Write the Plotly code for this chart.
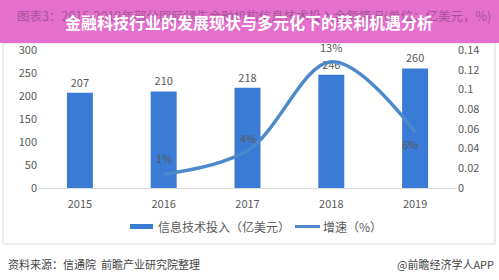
import plotly.graph_objects as go

years = ["2015", "2016", "2017", "2018", "2019"]
invest = [207, 210, 218, 246, 260]
growth_years = ["2016", "2017", "2018", "2019"]
growth = [0.014, 0.038, 0.128, 0.057]
growth_labels = ["1%", "4%", "13%", "6%"]
left_ticks = [0, 50, 100, 150, 200, 250, 300]
right_ticks = [0, 0.02, 0.04, 0.06, 0.08, 0.1, 0.12, 0.14]
right_ticklabels = ["0", "0.02", "0.04", "0.06", "0.08", "0.1", "0.12", "0.14"]

W, H = 499, 280
L, R, T, B = 38, 42, 50, 92
PW, PH = W - L - R, H - T - B

def px(x):
    return (x - L) / PW

def py(y):
    return (H - B - y) / PH

FONT = "Noto Sans CJK SC"
GRAY = "#595959"
BAR = "#3A7BD5"
LINE = "#4C88CC"

fig = go.Figure()
fig.add_trace(go.Bar(
    x=years, y=invest, name="信息技术投入（亿美元）",
    marker=dict(color=BAR, line=dict(width=0)), width=0.31,
    text=[str(v) for v in invest], textposition="outside",
    textfont=dict(size=11, color=GRAY, family=FONT), cliponaxis=False,
))
fig.add_trace(go.Scatter(
    x=growth_years, y=growth, name="增速（%）", yaxis="y2",
    mode="lines", line=dict(color=LINE, width=3.5, shape="spline", smoothing=1.0),
    cliponaxis=False,
))

# label offsets (pixels) for growth labels
label_shift = [(0, 16), (0, 13), (0, 15), (-5, -12)]

shapes = [
    dict(type="rect", xref="paper", yref="paper", x0=px(3), x1=px(495), y0=py(244), y1=py(43),
         line=dict(color="#D9D9D9", width=1), fillcolor="rgba(0,0,0,0)", layer="below"),
    dict(type="rect", xref="paper", yref="paper", x0=px(-2), x1=px(501), y0=py(43), y1=py(-2),
         line=dict(width=0), fillcolor="#E46FCC", layer="above"),
    dict(type="rect", xref="paper", yref="paper", x0=px(130), x1=px(153), y0=py(229), y1=py(224),
         line=dict(width=0), fillcolor=BAR),
    dict(type="line", xref="paper", yref="paper", x0=px(295), x1=px(320), y0=py(226.5), y1=py(226.5),
         line=dict(color=LINE, width=3)),
]

annotations = [
    dict(text="图表3：2015-2019年部分国际领先金融机构信息技术投入金额情况(单位：亿美元，%)",
         xref="paper", yref="paper", x=px(15), y=py(15), xanchor="left", yanchor="middle",
         showarrow=False, font=dict(size=12.5, color="#A8559C", family=FONT)),
    dict(text="<b>金融科技行业的发展现状与多元化下的获利机遇分析</b>",
         xref="paper", yref="paper", x=px(249), y=py(22), xanchor="center", yanchor="middle",
         showarrow=False, font=dict(size=16, color="#FFFFFF", family=FONT)),
    dict(text="信息技术投入（亿美元）", xref="paper", yref="paper", x=px(156), y=py(226.5),
         xanchor="left", yanchor="middle", showarrow=False, font=dict(size=12, color=GRAY, family=FONT)),
    dict(text="增速（%）", xref="paper", yref="paper", x=px(321), y=py(226.5),
         xanchor="left", yanchor="middle", showarrow=False, font=dict(size=12, color=GRAY, family=FONT)),
    dict(text="资料来源：信通院  前瞻产业研究院整理", xref="paper", yref="paper", x=px(6), y=py(264),
         xanchor="left", yanchor="middle", showarrow=False, font=dict(size=11, color="#444444", family=FONT)),
    dict(text="@前瞻经济学人APP", xref="paper", yref="paper", x=px(496), y=py(264),
         xanchor="right", yanchor="middle", showarrow=False, font=dict(size=11, color="#444444", family=FONT)),
]
for yr, v, lab, (dx, dy) in zip(growth_years, growth, growth_labels, label_shift):
    annotations.append(dict(text=lab, x=years.index(yr), y=v, xref="x", yref="y2",
                            xanchor="center", yanchor="middle",
                            xshift=dx, yshift=dy, showarrow=False,
                            font=dict(size=11, color=GRAY, family=FONT)))

fig.update_layout(
    width=W, height=H, margin=dict(l=L, r=R, t=T, b=B),
    paper_bgcolor="white", plot_bgcolor="white",
    showlegend=False,
    font=dict(family=FONT, color=GRAY, size=11),
    xaxis=dict(type="category", categoryorder="array", categoryarray=years,
               range=[-0.5, len(years) - 0.5],
               showgrid=False, showline=True, linecolor="#D9D9D9", linewidth=1,
               ticks="", ticklabelstandoff=6, tickfont=dict(size=11, color=GRAY), fixedrange=True),
    yaxis=dict(range=[0, 300], tickvals=left_ticks, showgrid=False, zeroline=False,
               showline=False, ticks="", tickfont=dict(size=11, color=GRAY)),
    yaxis2=dict(range=[0, 0.14], overlaying="y", side="right", tickvals=right_ticks,
                ticktext=right_ticklabels, showgrid=False, zeroline=False, showline=False,
                ticks="", tickfont=dict(size=11, color=GRAY)),
    shapes=shapes, annotations=annotations,
)

fig.write_html("out.html")
